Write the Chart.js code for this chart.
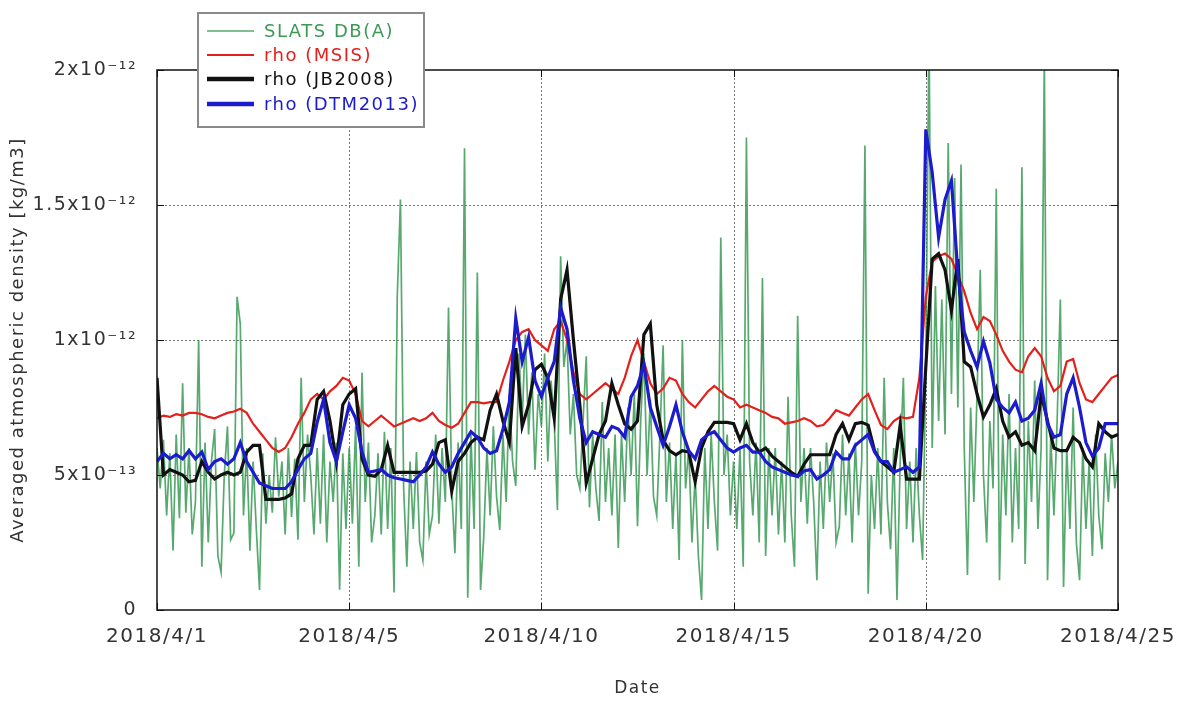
<!DOCTYPE html>
<html>
<head>
<meta charset="utf-8">
<script src="https://cdn.jsdelivr.net/npm/chart.js@4.4.1/dist/chart.umd.min.js"></script>
<style>
  html, body { margin: 0; padding: 0; background: #fff; }
  #wrap { width: 1177px; height: 701px; position: relative; }
</style>
</head>
<body>
<div id="wrap"><canvas id="c" width="1177" height="701"></canvas></div>
<script>
// ---- axis ticks ----
const xTickDays   = [0, 5, 10, 15, 20, 25];
const xTickLabels = ['2018/4/1', '2018/4/5', '2018/4/10', '2018/4/15', '2018/4/20', '2018/4/25'];
const yTickVals   = [0, 5e-13, 1e-12, 1.5e-12, 2e-12];
const yTickLabels = ['0', '5x10\u207B\u00B9\u00B3', '1x10\u207B\u00B9\u00B2', '1.5x10\u207B\u00B9\u00B2', '2x10\u207B\u00B9\u00B2'];

// ---- series (values in units of 1e-13 kg/m3) ----
const UNIT = 1e-13;
const MODEL_STEP_HOURS = 4;   // model densities: one sample every 4 h
const SLATS_STEP_HOURS = 2;   // SLATS DB(A): one sample every 2 h

const slatsDBA = [
  6.0, 4.5, 6.3, 3.5, 5.8, 2.2, 6.5, 3.4, 8.4, 3.6, 6.0, 2.8,
  4.0, 10.0, 1.6, 6.2, 2.5, 5.5, 6.7, 2.0, 1.4, 5.0, 6.8, 2.6,
  2.85, 11.6, 10.6, 3.5, 6.0, 2.2, 5.5, 3.0, 0.74, 5.8, 3.2, 5.0,
  3.6, 6.4, 4.2, 5.5, 2.8, 6.0, 3.45, 5.6, 2.6, 8.6, 4.0, 6.5,
  5.0, 2.8, 6.0, 3.2, 6.5, 2.5, 5.5, 4.0, 6.2, 0.75, 5.8, 3.0,
  6.0, 3.2, 6.8, 1.6, 8.8, 4.0, 6.2, 2.5, 3.5, 5.8, 2.8, 6.6,
  3.0, 6.0, 0.65, 11.6, 15.2, 4.5, 1.6, 5.5, 3.0, 5.85, 2.5, 1.85,
  5.5, 2.8, 3.5, 6.5, 3.2, 6.0, 4.0, 11.2, 4.5, 2.1, 6.2, 3.0,
  17.1, 0.45, 6.5, 3.0, 12.5, 0.74, 2.7, 6.0, 3.5, 6.8, 4.2, 2.96,
  6.5, 4.0, 8.0, 5.5, 4.6, 9.5, 7.0, 10.2, 6.5, 8.8, 5.2, 8.0,
  6.8, 9.5, 5.5, 8.5, 7.0, 3.7, 13.1, 9.0, 10.0, 6.5, 8.0, 5.0,
  4.5, 7.0, 9.4, 3.8, 6.5, 4.5, 3.3, 7.7, 4.0, 6.0, 3.5, 6.5,
  2.3, 6.5, 4.0, 7.5, 5.0, 8.0, 3.1, 7.0, 9.5, 5.0, 7.8, 4.2,
  3.5, 6.5, 9.8, 4.0, 6.2, 3.0, 5.8, 1.85, 10.0, 4.5, 6.0, 2.5,
  5.0, 2.0, 0.37, 6.0, 3.0, 6.5, 4.0, 2.2, 13.8, 5.0, 6.5, 3.5,
  5.5, 3.0, 6.0, 1.6, 17.5, 5.5, 3.5, 6.2, 2.5, 12.3, 2.0, 6.0,
  3.5, 6.0, 2.8, 5.5, 2.5, 7.9, 3.5, 1.6, 10.9, 4.0, 6.0, 3.2,
  6.0, 4.0, 1.1, 5.5, 3.0, 6.2, 4.0, 5.8, 2.5, 3.1, 6.5, 3.5,
  5.8, 2.5, 6.2, 3.5, 5.5, 17.2, 0.6, 5.0, 3.0, 6.0, 2.8, 8.6,
  4.0, 2.25, 6.0, 0.37, 5.5, 8.6, 3.0, 5.5, 2.5, 6.0, 3.5, 1.85,
  9.0, 21.5, 6.0, 12.0, 7.0, 11.5, 6.5, 17.3, 8.0, 16.0, 7.5, 16.5,
  6.0, 1.3, 7.5, 4.0, 8.0, 12.6, 5.0, 2.5, 7.0, 4.5, 15.6, 1.1,
  6.5, 3.5, 8.0, 2.5, 6.0, 3.0, 16.4, 1.7, 7.0, 4.0, 8.5, 3.0,
  6.0, 20.5, 1.1, 6.5, 3.5, 7.0, 11.5, 0.85, 6.0, 3.0, 7.5, 2.5,
  1.1, 6.0, 3.0, 5.5, 2.0, 6.5, 3.5, 2.25, 5.8, 4.0, 6.5, 4.5,
  5.5
];

const rhoMSIS = [
  7.1, 7.2, 7.15, 7.25, 7.2, 7.3,
  7.3, 7.25, 7.15, 7.1, 7.2, 7.3,
  7.35, 7.45, 7.3, 6.9, 6.6, 6.3,
  6.0, 5.85, 6.0, 6.4, 6.9, 7.3,
  7.8, 8.0, 7.8, 8.1, 8.3, 8.6,
  8.5, 8.0, 7.0, 6.8, 7.0, 7.2,
  7.0, 6.8, 6.9, 7.0, 7.1, 7.0,
  7.1, 7.3, 7.0, 6.85, 6.75, 6.9,
  7.3, 7.7, 7.7, 7.65, 7.7, 7.7,
  8.5, 9.2, 10.0, 10.3, 10.4, 10.0,
  9.8, 9.6, 10.4, 10.7, 10.0, 8.8,
  8.0, 7.8, 8.0, 8.2, 8.4, 8.2,
  8.0, 8.6, 9.4, 10.0, 9.2, 8.4,
  8.0, 8.2, 8.6, 8.5, 8.0, 7.7,
  7.5, 7.8, 8.1, 8.3, 8.1, 7.9,
  7.8, 7.5, 7.6, 7.5, 7.4, 7.3,
  7.15, 7.1, 6.9, 6.95, 7.0, 7.1,
  7.0, 6.8, 6.85, 7.1, 7.4, 7.3,
  7.2, 7.5, 7.8, 8.0, 7.4, 6.85,
  6.7, 7.0, 7.15, 7.1, 7.15, 8.6,
  11.6, 12.9, 13.1, 13.2, 13.0, 12.4,
  11.8, 11.0, 10.4, 10.85, 10.7, 10.2,
  9.6, 9.2, 8.9, 8.8, 9.4, 9.7,
  9.4, 8.6, 8.1, 8.3, 9.2, 9.3,
  8.4, 7.8, 7.7, 8.0, 8.3, 8.6,
  8.7
];

const rhoJB2008 = [
  8.6, 5.0, 5.2, 5.1, 5.0, 4.75,
  4.8, 5.5, 5.1, 4.85, 5.0, 5.1,
  5.0, 5.1, 5.85, 6.1, 6.1, 4.1,
  4.1, 4.1, 4.15, 4.3, 5.6, 6.1,
  6.1, 7.8, 8.1, 7.0, 5.5, 7.6,
  8.0, 8.2, 5.6, 5.0, 4.95, 5.2,
  6.1, 5.1, 5.1, 5.1, 5.1, 5.1,
  5.15, 5.4, 6.2, 6.3, 4.4, 5.5,
  5.8, 6.2, 6.4, 6.3, 7.4, 8.0,
  7.0, 6.2, 9.7, 6.8, 7.6, 8.9,
  9.1, 8.6, 7.1, 11.5, 12.6, 10.0,
  7.6, 4.7, 5.6, 6.5, 7.0, 8.4,
  7.6, 6.9, 6.7, 7.0, 10.2, 10.6,
  7.6, 6.3, 5.9, 5.75, 5.9, 5.85,
  4.75, 6.0, 6.6, 6.95, 6.95, 6.95,
  6.9, 6.3, 6.9, 6.2, 5.85, 6.0,
  5.7, 5.5, 5.3, 5.1, 4.95, 5.4,
  5.75, 5.75, 5.75, 5.75, 6.5, 6.9,
  6.3, 6.9, 6.95, 6.85, 5.9, 5.5,
  5.3, 5.1, 6.85, 4.85, 4.85, 4.85,
  9.0, 13.0, 13.2, 12.6, 11.1, 13.0,
  9.2, 9.0, 8.0, 7.15, 7.6, 8.2,
  7.0, 6.4, 6.6, 6.1, 6.2, 5.9,
  8.0, 7.0, 6.0, 5.9, 5.9, 6.4,
  6.2, 5.6, 5.3, 6.9, 6.6, 6.4,
  6.5
];

const rhoDTM2013 = [
  5.5, 5.8, 5.6, 5.75, 5.6, 5.9,
  5.6, 5.85, 5.2, 5.5, 5.6, 5.4,
  5.6, 6.2, 5.5, 5.1, 4.7, 4.6,
  4.5, 4.5, 4.5, 4.75, 5.2, 5.6,
  5.8, 6.95, 7.8, 6.2, 5.5, 6.6,
  7.6, 7.1, 5.85, 5.1, 5.15, 5.2,
  5.0, 4.9, 4.85, 4.8, 4.75, 5.0,
  5.3, 5.85, 5.4, 5.1, 5.3, 5.8,
  6.2, 6.6, 6.4, 6.0, 5.8, 5.9,
  6.7, 7.7, 10.8, 9.2, 10.1, 8.5,
  7.9, 8.6, 9.2, 11.2, 10.4, 8.5,
  7.1, 6.2, 6.6, 6.5, 6.4, 6.8,
  6.7, 6.4, 7.9, 8.3, 9.1, 7.5,
  6.8, 6.1, 6.8, 7.6, 6.6, 5.9,
  5.6, 6.3, 6.5, 6.6, 6.3, 6.0,
  5.85, 6.0, 6.1, 5.85, 5.85, 5.5,
  5.3, 5.2, 5.1, 5.0, 4.95, 5.15,
  5.2, 4.85, 5.0, 5.2, 5.85, 5.6,
  5.6, 6.1, 6.3, 6.5, 5.85, 5.5,
  5.5, 5.1, 5.2, 5.3, 5.1, 5.3,
  17.8, 16.2, 13.8, 15.2, 15.9, 12.5,
  10.3, 9.6, 9.0, 9.95, 9.15, 7.8,
  7.5, 7.3, 7.7, 7.0, 7.1, 7.4,
  8.4, 6.9, 6.4, 6.5, 8.0, 8.6,
  7.5, 6.2, 5.7, 6.0, 6.9, 6.9,
  6.9
];

// sample times in days since the first tick
function toPoints(vals, stepHours) {
  return vals.map((v, i) => ({ x: i * stepHours / 24, y: v * UNIT }));
}

const COLORS = {
  slats: 'rgba(40,145,70,0.78)',
  msis: '#e3201b',
  jb: '#111111',
  dtm: '#1c1ccc'
};

const FONT = 'DejaVu Sans';
const TXT = '#333333';

const legendItems = [
  { label: 'SLATS DB(A)',   color: COLORS.slats, text: '#3d9a55', width: 1.5 },
  { label: 'rho (MSIS)',    color: COLORS.msis,  text: '#e3201b', width: 2.2 },
  { label: 'rho (JB2008)',  color: COLORS.jb,    text: '#111111', width: 4.5 },
  { label: 'rho (DTM2013)', color: COLORS.dtm,   text: '#1c1ccc', width: 4.5 }
];

const frameGridPlugin = {
  id: 'frameGrid',
  beforeDraw(chart) {
    chart.ctx.letterSpacing = '1.5px';
  },
  beforeDatasetsDraw(chart) {
    const { ctx, chartArea: a, scales } = chart;
    ctx.save();
    ctx.strokeStyle = '#777';
    ctx.lineWidth = 1;
    ctx.setLineDash([2, 2]);
    xTickDays.slice(1, -1).forEach(d => {
      const px = Math.round(scales.x.getPixelForValue(d)) + 0.5;
      ctx.beginPath(); ctx.moveTo(px, a.top); ctx.lineTo(px, a.bottom); ctx.stroke();
    });
    yTickVals.slice(1, -1).forEach(v => {
      const py = Math.round(scales.y.getPixelForValue(v)) + 0.5;
      ctx.beginPath(); ctx.moveTo(a.left, py); ctx.lineTo(a.right, py); ctx.stroke();
    });
    ctx.restore();
  },
  afterDatasetsDraw(chart) {
    const { ctx, chartArea: a, scales } = chart;
    ctx.save();
    ctx.strokeStyle = '#111';
    ctx.lineWidth = 1.5;
    ctx.strokeRect(a.left, a.top, a.right - a.left, a.bottom - a.top);
    ctx.lineWidth = 1;
    xTickDays.forEach(d => {
      const px = Math.round(scales.x.getPixelForValue(d)) + 0.5;
      ctx.beginPath(); ctx.moveTo(px, a.bottom); ctx.lineTo(px, a.bottom - 7); ctx.stroke();
      ctx.beginPath(); ctx.moveTo(px, a.top); ctx.lineTo(px, a.top + 7); ctx.stroke();
    });
    yTickVals.forEach(v => {
      const py = Math.round(scales.y.getPixelForValue(v)) + 0.5;
      ctx.beginPath(); ctx.moveTo(a.left, py); ctx.lineTo(a.left + 7, py); ctx.stroke();
      ctx.beginPath(); ctx.moveTo(a.right, py); ctx.lineTo(a.right - 7, py); ctx.stroke();
    });
    ctx.restore();
  },
  afterDraw(chart) {
    const { ctx } = chart;
    const bx = 198, by = 13, bw = 226, bh = 114;
    ctx.save();
    ctx.fillStyle = '#ffffff';
    ctx.fillRect(bx, by, bw, bh);
    ctx.strokeStyle = '#8a8a8a';
    ctx.lineWidth = 2;
    ctx.strokeRect(bx, by, bw, bh);
    ctx.font = '18px "' + FONT + '"';
    ctx.textBaseline = 'middle';
    ctx.textAlign = 'left';
    const rows = [31, 55, 79, 104];
    legendItems.forEach((it, i) => {
      const y = rows[i];
      ctx.strokeStyle = it.color;
      ctx.lineWidth = it.width;
      ctx.beginPath(); ctx.moveTo(207, y); ctx.lineTo(254, y); ctx.stroke();
      ctx.fillStyle = it.text;
      ctx.fillText(it.label, 264, y + 1);
    });
    ctx.restore();
  }
};

const ctx = document.getElementById('c').getContext('2d');
new Chart(ctx, {
  type: 'line',
  data: {
    datasets: [
      { label: 'rho (DTM2013)', data: toPoints(rhoDTM2013, MODEL_STEP_HOURS), borderColor: COLORS.dtm, borderWidth: 3.2, order: 0 },
      { label: 'rho (JB2008)',  data: toPoints(rhoJB2008, MODEL_STEP_HOURS),  borderColor: COLORS.jb,  borderWidth: 3.2, order: 1 },
      { label: 'rho (MSIS)',    data: toPoints(rhoMSIS, MODEL_STEP_HOURS),    borderColor: COLORS.msis, borderWidth: 2.2, order: 2 },
      { label: 'SLATS DB(A)',   data: toPoints(slatsDBA, SLATS_STEP_HOURS),   borderColor: COLORS.slats, borderWidth: 1.7, order: 3 }
    ]
  },
  options: {
    responsive: false,
    animation: false,
    events: [],
    elements: { point: { radius: 0 }, line: { tension: 0, fill: false } },
    layout: { padding: { top: 70, right: 59, bottom: 0, left: 0 } },
    plugins: { legend: { display: false }, tooltip: { enabled: false } },
    scales: {
      x: {
        type: 'linear',
        min: 0, max: 25,
        grid: { display: false, drawTicks: false },
        border: { display: false },
        afterBuildTicks: s => { s.ticks = xTickDays.map(v => ({ value: v })); },
        afterFit: s => { s.height = 91; s.paddingLeft = 0; s.paddingRight = 0; },
        ticks: {
          autoSkip: false, maxRotation: 0, padding: 15,
          color: TXT, font: { family: FONT, size: 20 },
          callback: (v, i) => xTickLabels[i]
        },
        title: { display: true, text: 'Date', color: TXT, font: { family: FONT, size: 17 }, padding: { top: 0, bottom: 2 } }
      },
      y: {
        type: 'linear',
        min: 0, max: 2e-12,
        grid: { display: false, drawTicks: false },
        border: { display: false },
        afterBuildTicks: s => { s.ticks = yTickVals.map(v => ({ value: v })); },
        afterFit: s => { s.width = 157; s.paddingTop = 0; s.paddingBottom = 0; },
        ticks: {
          autoSkip: false, padding: 20,
          color: TXT, font: { family: FONT, size: 19 },
          callback: (v, i) => yTickLabels[i]
        },
        title: { display: true, text: 'Averaged atmospheric density [kg/m3]', color: TXT, font: { family: FONT, size: 18 }, padding: { top: 8, bottom: 0 } }
      }
    }
  },
  plugins: [frameGridPlugin]
});
</script>
</body>
</html>
